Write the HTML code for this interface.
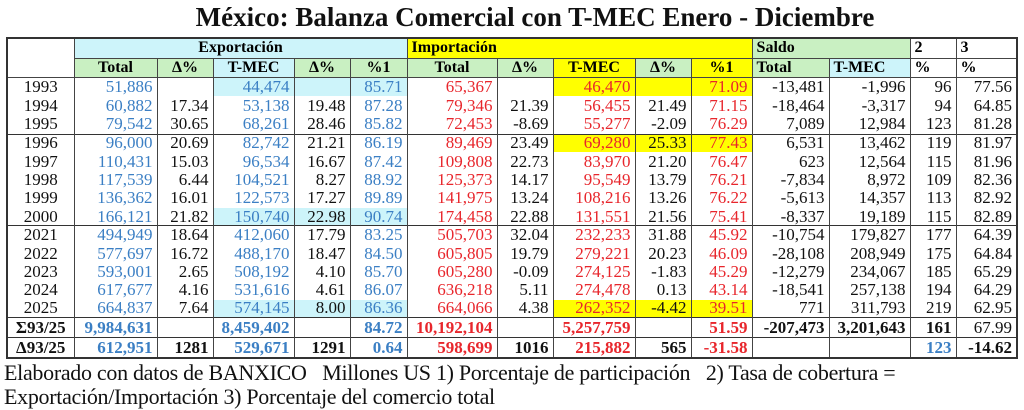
<!DOCTYPE html>
<html><head><meta charset="utf-8">
<style>
body{margin:0;width:1024px;height:410px;background:#fff;overflow:hidden;font-family:"Liberation Serif",serif;}
#title{position:absolute;left:0;width:1070px;top:2px;text-align:center;font-size:27px;font-weight:bold;color:#111;}
table{position:absolute;left:6px;top:37px;border-collapse:collapse;table-layout:fixed;width:1010px;border:2px solid #333;}
td{padding:0 4px;font-size:17px;white-space:nowrap;overflow:hidden;border-left:1px solid #444;border-right:1px solid #444;text-align:right;line-height:16px;}
tr.h td{font-weight:bold;font-size:16px;text-align:center;border-bottom:1px solid #444;}
.b{color:#3b7fc4}.r{color:#e8262c}.k{color:#111}
.c{background:#cdf4fa}.g{background:#c9f0c2}.y{background:#ffff00}
tr.sep td{border-top:1px solid #333}
tr.tot td{font-weight:bold;border-top:1.5px solid #333}
.foot{position:absolute;left:4px;font-size:22px;color:#111;letter-spacing:-0.3px;}
</style></head><body>
<div id="title">México: Balanza Comercial con T-MEC Enero - Diciembre</div>
<table id="tbl">
<colgroup><col style="width:67px"><col style="width:83px"><col style="width:56px"><col style="width:81px"><col style="width:56px"><col style="width:57px"><col style="width:90px"><col style="width:56px"><col style="width:82px"><col style="width:56px"><col style="width:61px"><col style="width:77px"><col style="width:81px"><col style="width:46px"><col style="width:61px"></colgroup>
<tr class="h" style="height:20px">
<td rowspan="2" style="background:#fff"></td>
<td colspan="5" class="c">Exportación</td>
<td colspan="5" class="y" style="text-align:left">Importación</td>
<td colspan="2" class="g" style="text-align:left">Saldo</td>
<td style="text-align:left">2</td>
<td style="text-align:left">3</td>
</tr>
<tr class="h" style="height:19px">
<td class="g">Total</td><td class="g">Δ%</td><td class="c">T-MEC</td><td class="g">Δ%</td><td class="g">%1</td>
<td class="g">Total</td><td class="g">Δ%</td><td class="y">T-MEC</td><td class="g">Δ%</td><td class="y">%1</td>
<td class="g" style="text-align:left">Total</td><td class="c" style="text-align:left">T-MEC</td><td style="text-align:left">%</td><td style="text-align:left">%</td>
</tr>
<tbody id="body"></tbody>
</table>
<div class="foot" style="top:360px">Elaborado con datos de BANXICO &nbsp;&nbsp;Millones US 1) Porcentaje de participación &nbsp;&nbsp;2) Tasa de cobertura =</div>
<div class="foot" style="top:384px">Exportación/Importación 3) Porcentaje del comercio total</div>
<script>
const years=["1993","1994","1995","1996","1997","1998","1999","2000","2021","2022","2023","2024","2025","Σ93/25","Δ93/25"];
const expTotal=["51,886","60,882","79,542","96,000","110,431","117,539","136,362","166,121","494,949","577,697","593,001","617,677","664,837","9,984,631","612,951"];
const expDelta=["","17.34","30.65","20.69","15.03","6.44","16.01","21.82","18.64","16.72","2.65","4.16","7.64","","1281"];
const expTmec=["44,474","53,138","68,261","82,742","96,534","104,521","122,573","150,740","412,060","488,170","508,192","531,616","574,145","8,459,402","529,671"];
const expTmecDelta=["","19.48","28.46","21.21","16.67","8.27","17.27","22.98","17.79","18.47","4.10","4.61","8.00","","1291"];
const expShare=["85.71","87.28","85.82","86.19","87.42","88.92","89.89","90.74","83.25","84.50","85.70","86.07","86.36","84.72","0.64"];
const impTotal=["65,367","79,346","72,453","89,469","109,808","125,373","141,975","174,458","505,703","605,805","605,280","636,218","664,066","10,192,104","598,699"];
const impDelta=["","21.39","-8.69","23.49","22.73","14.17","13.24","22.88","32.04","19.79","-0.09","5.11","4.38","","1016"];
const impTmec=["46,470","56,455","55,277","69,280","83,970","95,549","108,216","131,551","232,233","279,221","274,125","274,478","262,352","5,257,759","215,882"];
const impTmecDelta=["","21.49","-2.09","25.33","21.20","13.79","13.26","21.56","31.88","20.23","-1.83","0.13","-4.42","","565"];
const impShare=["71.09","71.15","76.29","77.43","76.47","76.21","76.22","75.41","45.92","46.09","45.29","43.14","39.51","51.59","-31.58"];
const saldoTotal=["-13,481","-18,464","7,089","6,531","623","-7,834","-5,613","-8,337","-10,754","-28,108","-12,279","-18,541","771","-207,473",""];
const saldoTmec=["-1,996","-3,317","12,984","13,462","12,564","8,972","14,357","19,189","179,827","208,949","234,067","257,138","311,793","3,201,643",""];
const cobertura=["96","94","123","119","115","109","113","115","177","175","185","194","219","161","123"];
const comercio=["77.56","64.85","81.28","81.97","81.96","82.36","82.92","82.89","64.39","64.84","65.29","64.29","62.95","67.99","-14.62"];
const cyanRows=[0,7,12];
const yellowRows=[0,3,12];
const body=document.getElementById('body');
years.forEach((yr,i)=>{
  const tr=document.createElement('tr');
  
  
  const tot=i>=13;
  tr.style.height=tot?'20px':(i<3?'19px':'18.4px');
  if(i===3||i===8) tr.className='sep';
  if(tot) tr.className='tot';
  const cells=[
    [yr,'k'],[expTotal[i],'b'],[expDelta[i],'k'],[expTmec[i],'b'],[expTmecDelta[i],'k'],[expShare[i],'b'],
    [impTotal[i],'r'],[impDelta[i],'k'],[impTmec[i],'r'],[impTmecDelta[i],'k'],[impShare[i],'r'],
    [saldoTotal[i],'k'],[saldoTmec[i],'k'],[cobertura[i],(i===14?'b':'k')],[comercio[i],'k']
  ];
  cells.forEach((c,j)=>{
    const td=document.createElement('td');
    
    
    td.textContent=c[0];
    td.className=c[1];
    if(j===0) td.style.textAlign='center';
    if(cyanRows.includes(i)&&j>=3&&j<=5) td.classList.add('c');
    if(yellowRows.includes(i)&&j>=8&&j<=10) td.classList.add('y');
    if(tot&&j===14) td.style.fontWeight=(i===14?'bold':'normal');
    tr.appendChild(td);
  });
  body.appendChild(tr);
});
</script>
</body></html>
